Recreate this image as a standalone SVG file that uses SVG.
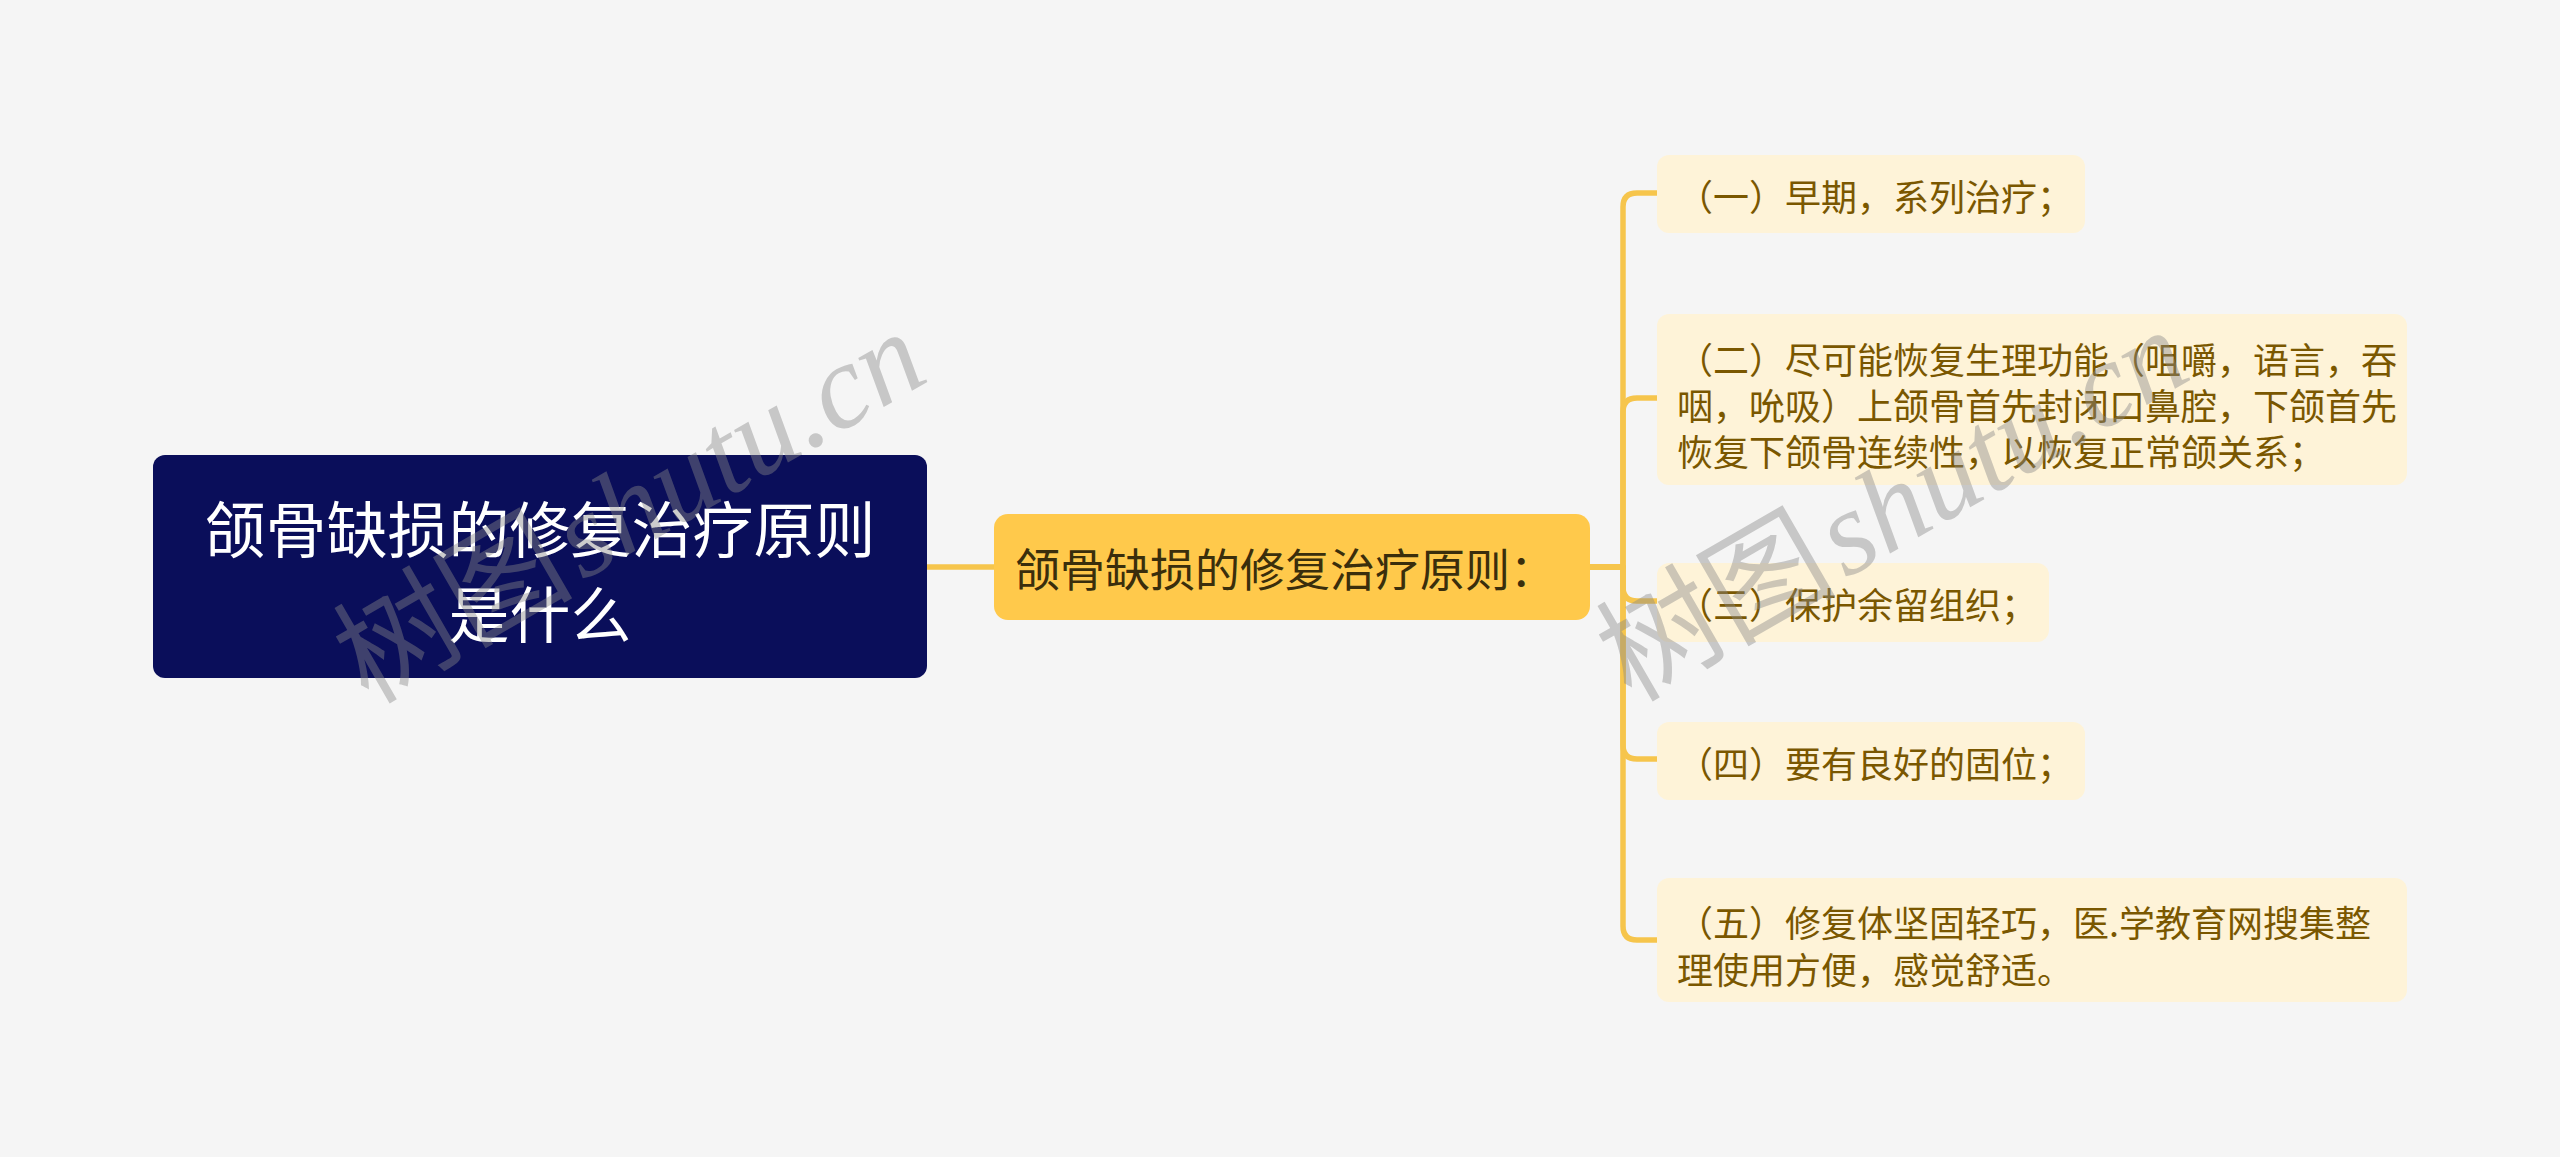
<svg xmlns="http://www.w3.org/2000/svg" width="2560" height="1157" viewBox="0 0 2560 1157">
<style>
.cjk{font-family:"Noto Sans CJK SC","Noto Sans",sans-serif}
.conn{fill:none;stroke:#F6C54C;stroke-width:5.5;stroke-linecap:round;stroke-linejoin:round}
.leaf rect{fill:#FEF3D8}
.leaf text{font-size:36px;fill:#7A5700;dominant-baseline:central}
.wm{font-family:"Liberation Serif","Noto Sans CJK SC",serif;font-style:italic;font-size:120px;fill:#888;opacity:0.42}
.wm .zh{font-style:normal}
</style>
<rect x="0" y="0" width="2560" height="1157" fill="#F5F5F5"/>
<g id="connectors">
<path class="conn" d="M927,567 H994"/>
<path class="conn" d="M1590,567 H1623 V207 Q1623,193 1637,193 H1657"/>
<path class="conn" d="M1590,567 H1623 V412 Q1623,398 1637,398 H1657"/>
<path class="conn" d="M1590,567 H1623 V587 Q1623,601 1637,601 H1657"/>
<path class="conn" d="M1590,567 H1623 V745 Q1623,759 1637,759 H1657"/>
<path class="conn" d="M1590,567 H1623 V926 Q1623,940 1637,940 H1657"/>
</g>
<g id="root">
<rect x="153" y="455" width="774" height="223" rx="12" fill="#0A0E5A"/>
<text class="cjk" x="540" y="526" font-size="61" fill="#FFFFFF" text-anchor="middle" dominant-baseline="central">颌骨缺损的修复治疗原则</text>
<text class="cjk" x="540" y="611" font-size="61" fill="#FFFFFF" text-anchor="middle" dominant-baseline="central">是什么</text>
</g>
<g id="middle">
<rect x="994" y="514" width="596" height="106" rx="14" fill="#FFC94B"/>
<text class="cjk" x="1015" y="567" font-size="45" fill="#3A2E0C" dominant-baseline="central">颌骨缺损的修复治疗原则：</text>
</g>
<g id="leaf1" class="leaf cjk">
<rect x="1657" y="155" width="428" height="78" rx="12"/>
<text x="1677" y="195">（一）早期，系列治疗；</text>
</g>
<g id="leaf2" class="leaf cjk">
<rect x="1657" y="314" width="750" height="171" rx="12"/>
<text x="1677" y="358">（二）尽可能恢复生理功能（咀嚼，语言，吞</text>
<text x="1677" y="404">咽，吮吸）上颌骨首先封闭口鼻腔，下颌首先</text>
<text x="1677" y="450">恢复下颌骨连续性，以恢复正常颌关系；</text>
</g>
<g id="leaf3" class="leaf cjk">
<rect x="1657" y="563" width="392" height="79" rx="12"/>
<text x="1677" y="603">（三）保护余留组织；</text>
</g>
<g id="leaf4" class="leaf cjk">
<rect x="1657" y="722" width="428" height="78" rx="12"/>
<text x="1677" y="762">（四）要有良好的固位；</text>
</g>
<g id="leaf5" class="leaf cjk">
<rect x="1657" y="878" width="750" height="124" rx="12"/>
<text x="1677" y="921">（五）修复体坚固轻巧，医.学教育网搜集整</text>
<text x="1677" y="968">理使用方便，感觉舒适。</text>
</g>
<g id="watermarks">
<text class="wm" transform="translate(368,705) rotate(-30)"><tspan class="zh">树图</tspan><tspan dx="8">shutu.cn</tspan></text>
<text class="wm" transform="translate(1631,703) rotate(-30)"><tspan class="zh">树图</tspan><tspan dx="8">shutu.cn</tspan></text>
</g>
</svg>
